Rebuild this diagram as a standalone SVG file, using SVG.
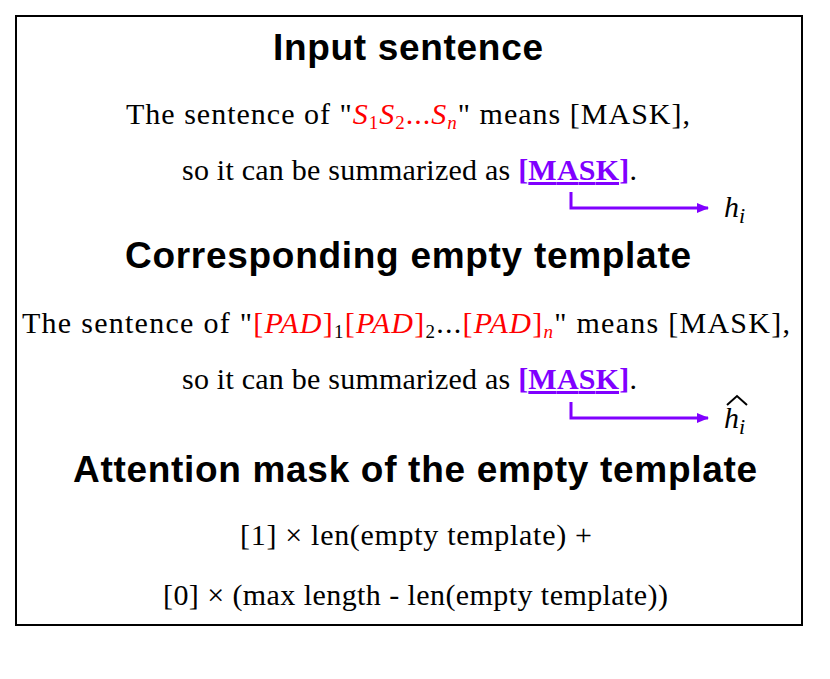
<svg xmlns="http://www.w3.org/2000/svg" width="830" height="679" viewBox="0 0 830 679">
<style>
.t{font-family:"Liberation Sans",Arial,sans-serif;font-weight:bold;font-size:37px;text-anchor:middle;fill:#000}
.s{font-family:"Liberation Serif","Times New Roman",serif;font-size:30px;fill:#000}
.r{fill:#ff0000;font-style:italic}
.m{fill:#8000ff;font-weight:bold;text-decoration:underline}
.c{fill:none;stroke:#8000ff;stroke-width:3}
</style>
<defs><marker id="a" markerWidth="12" markerHeight="10" refX="11" refY="5" orient="auto" markerUnits="userSpaceOnUse"><path d="M0,0L12,5L0,10z" fill="#8000ff"/></marker></defs>
<rect x="16" y="16" width="786" height="609" fill="#fff" stroke="#000" stroke-width="2"/>
<g id="title1"><text class="t" x="408" y="60" textLength="270">Input sentence</text></g>
<g id="sent1">
<text class="s" x="126" y="124" textLength="564">The sentence of "<tspan class="r">S</tspan><tspan fill="#ff0000" font-size="19" dy="5">1</tspan><tspan class="r" dy="-5">S</tspan><tspan fill="#ff0000" font-size="19" dy="5">2</tspan><tspan fill="#ff0000" dy="-5">...</tspan><tspan class="r">S</tspan><tspan class="r" font-size="19" dy="5">n</tspan><tspan dy="-5">" means [MASK],</tspan></text>
<text class="s" x="182" y="180" textLength="455">so it can be summarized as <tspan class="m">[MASK]</tspan>.</text>
</g>
<g id="title2"><text class="t" x="408" y="268" textLength="566">Corresponding empty template</text></g>
<g id="sent2">
<text class="s" x="22" y="333" textLength="768">The sentence of "<tspan fill="#ff0000">[</tspan><tspan class="r">PAD</tspan><tspan fill="#ff0000">]</tspan><tspan font-size="19" dy="5">1</tspan><tspan fill="#ff0000" dy="-5">[</tspan><tspan class="r">PAD</tspan><tspan fill="#ff0000">]</tspan><tspan font-size="19" dy="5">2</tspan><tspan dy="-5">...</tspan><tspan fill="#ff0000">[</tspan><tspan class="r">PAD</tspan><tspan fill="#ff0000">]</tspan><tspan class="r" font-size="19" dy="5">n</tspan><tspan dy="-5">" means [MASK],</tspan></text>
<text class="s" x="182" y="389" textLength="455">so it can be summarized as <tspan class="m">[MASK]</tspan>.</text>
</g>
<g id="title3"><text class="t" x="415" y="482" textLength="684">Attention mask of the empty template</text></g>
<g id="formula">
<text class="s" x="240" y="545" textLength="352">[1] × len(empty template) +</text>
<text class="s" x="163" y="605" textLength="505">[0] × (max length - len(empty template))</text>
</g>
<g id="h1"><text class="s" x="724" y="217" font-style="italic" font-size="36">h<tspan font-size="22" dy="6">i</tspan></text></g>
<g id="h2"><text class="s" x="724" y="428" font-style="italic" font-size="36">h<tspan font-size="22" dy="6">i</tspan></text><path d="M727,405 L737,396 L747,405" fill="none" stroke="#000" stroke-width="2"/></g>
<g id="connectors">
<path class="c" d="M571,192V208H708" marker-end="url(#a)"/>
<path class="c" d="M571,402V418H708" marker-end="url(#a)"/>
</g>
</svg>
